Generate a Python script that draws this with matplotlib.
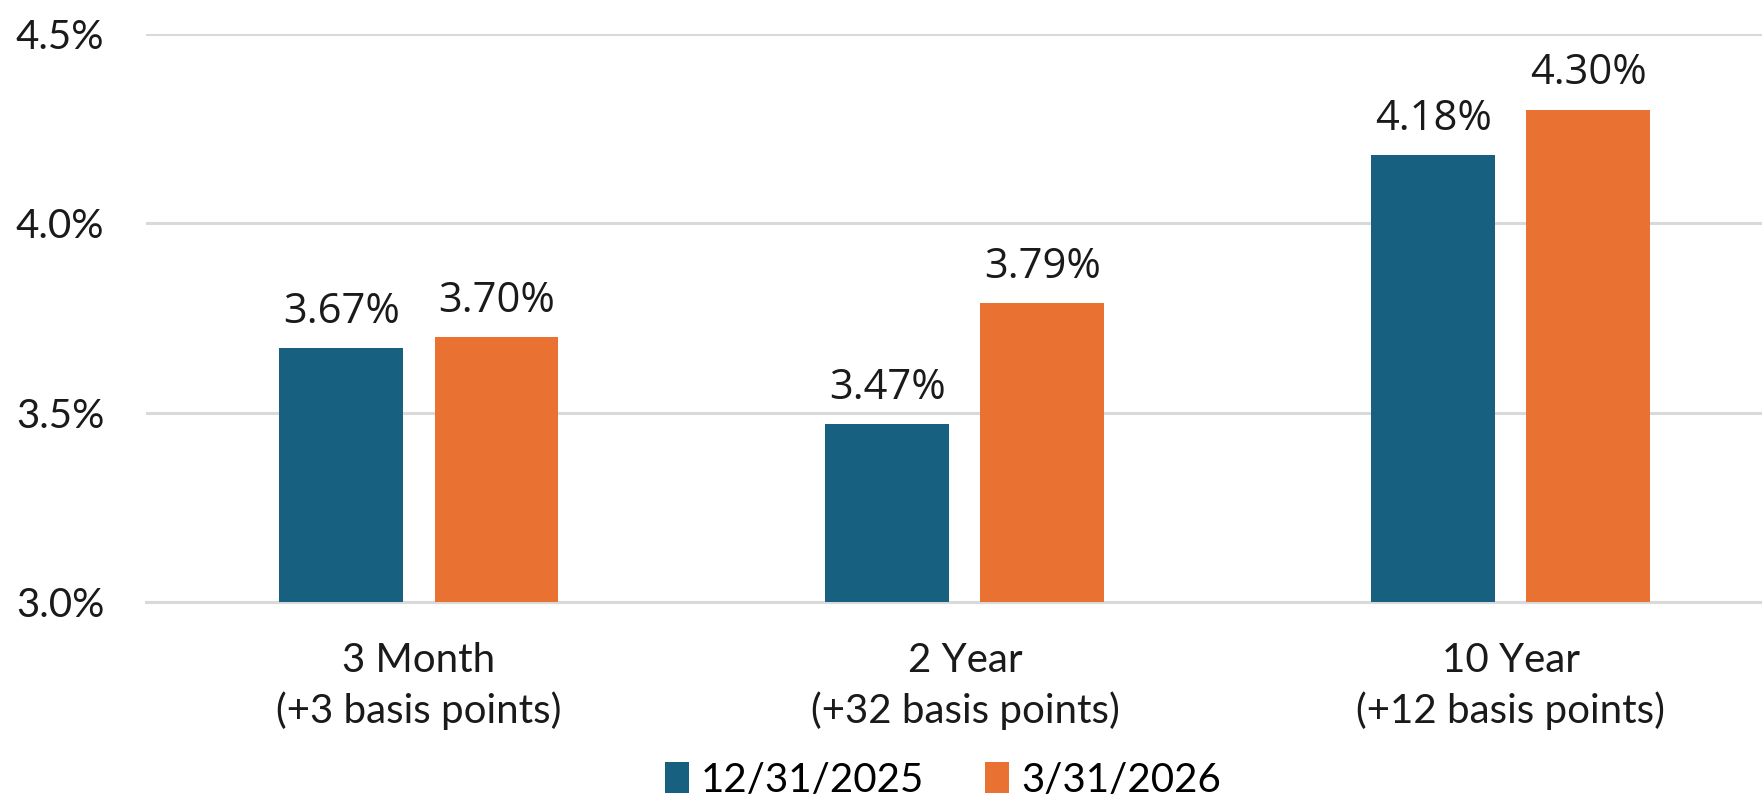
import numpy as np
import matplotlib
matplotlib.use('Agg')
import matplotlib.pyplot as plt
from matplotlib.ticker import FuncFormatter

categorias = ['3 Month\n(+3 basis points)', '2 Year\n(+32 basis points)', '10 Year\n(+12 basis points)']
series = ['12/31/2025', '3/31/2026']
valores_dic = [3.67, 3.47, 4.18]
valores_mar = [3.70, 3.79, 4.30]
ticks_y = [3.0, 3.5, 4.0, 4.5]

azul = '#17607F'
naranja = '#E97132'
gris = '#D9D9D9'

plt.rcParams['font.family'] = ['Lato', 'DejaVu Sans']

fig = plt.figure(figsize=(17.62, 7.96), dpi=100)
ax = fig.add_axes([146 / 1762, 1 - 602 / 796, 1 - 146 / 1762, (602 - 34) / 796])

x = np.arange(len(categorias))
ancho = 0.227
desp = 0.142
barras1 = ax.bar(x - desp, valores_dic, ancho, bottom=0, color=azul, label=series[0], zorder=3)
barras2 = ax.bar(x + desp, valores_mar, ancho, color=naranja, label=series[1], zorder=3)

for barras, vals in [(barras1, valores_dic), (barras2, valores_mar)]:
    for b, v in zip(barras, vals):
        ax.annotate(f'{v:.2f}%', (b.get_x() + b.get_width() / 2, v),
                    xytext=(0, 11), textcoords='offset points',
                    ha='center', va='bottom', fontsize=30,
                    family=['Open Sans', 'DejaVu Sans'], color='#1a1a1a')

ax.set_ylim(3.0, 4.5)
ax.set_xlim(-0.5, 2.46)
ax.set_yticks(ticks_y)
ax.yaxis.set_major_formatter(FuncFormatter(lambda v, p: f'{v:.1f}%'))
ax.set_xticks(x)
ax.set_xticklabels(categorias, fontsize=29, linespacing=1.38)
ax.tick_params(axis='y', length=0, pad=30, labelsize=29, labelcolor='#1a1a1a')
ax.tick_params(axis='x', length=0, pad=29, labelcolor='#1a1a1a')

ax.grid(axis='y', color=gris, linewidth=2.2, zorder=0)
for s in ['top', 'right', 'left']:
    ax.spines[s].set_visible(False)
ax.spines['bottom'].set_color(gris)
ax.spines['bottom'].set_linewidth(2.2)

fig.legend(loc='center', bbox_to_anchor=(943 / 1762, 1 - 780 / 796), ncol=2,
           frameon=False, fontsize=29, handlelength=0.6, handleheight=0.8,
           handletextpad=0.3, columnspacing=1.5)

fig.savefig('out.png', dpi=100)
